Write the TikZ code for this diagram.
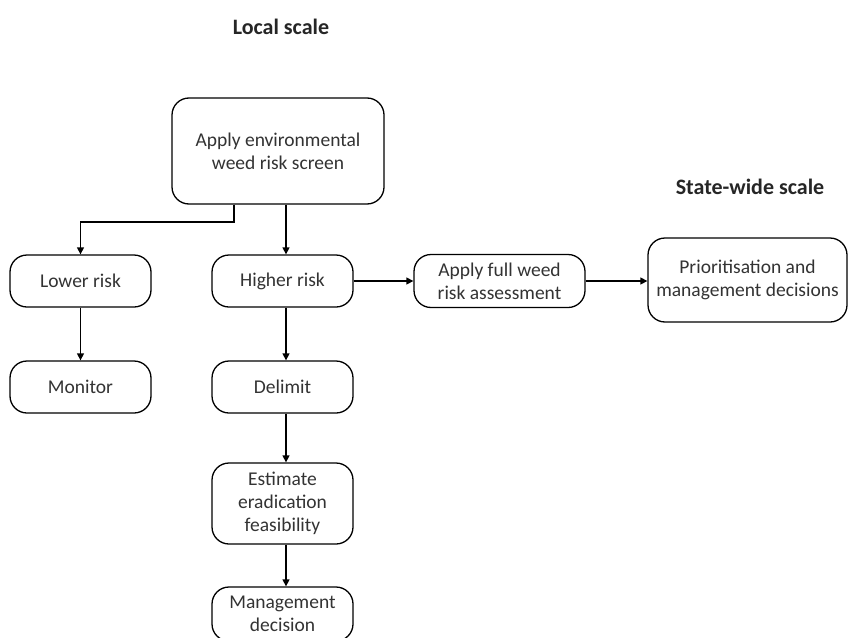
\documentclass[tikz,border=0pt]{standalone}
\usepackage{fontspec}
\setmainfont{Carlito}
\usetikzlibrary{arrows.meta}
\begin{document}
\begin{tikzpicture}[x=1pt,y=-1pt,
  box/.style={draw, line width=1.3pt, rounded corners=17pt, align=center,
    inner sep=0pt, font=\fontsize{19.5}{23}\selectfont, text=black!80},
  flow/.style={line width=1.3pt, -{Triangle[length=7pt,width=7pt]}},
  heading/.style={font=\bfseries\fontsize{22}{26}\selectfont, text=black!85}]
  \clip (0,0) rectangle (848,637);
  \fill[white] (0,0) rectangle (848,637);

  \node[heading] (local) at (281,27) {Local scale};
  \node[heading] (state) at (750,187) {State-wide scale};

  \node[box, minimum width=212pt, minimum height=106pt] (screen) at (278,151)
    {Apply environmental\\weed risk screen};
  \node[box, minimum width=141pt, minimum height=52pt] (lower) at (80.5,281) {Lower risk};
  \node[box, minimum width=141pt, minimum height=52pt] (higher) at (282.5,281) {Higher risk};
  \node[box, minimum width=171pt, minimum height=53pt] (full) at (499.5,281)
    {Apply full weed\\risk assessment};
  \node[box, minimum width=199pt, minimum height=84pt] (prior) at (747.5,280)
    {Prioritisation and\\management decisions};
  \node[box, minimum width=141pt, minimum height=52pt] (monitor) at (80.5,387) {Monitor};
  \node[box, minimum width=141pt, minimum height=52pt] (delimit) at (282.5,387) {Delimit};
  \node[box, minimum width=141pt, minimum height=81pt] (estimate) at (282.5,503.5)
    {Estimate\\eradication\\feasibility};
  \node[box, minimum width=141pt, minimum height=54pt] (manage) at (282.5,614)
    {Management\\decision};

  \coordinate (split) at (234,222);
  \draw[flow] (screen.south -| split) |- (split) -| (lower.north);
  \draw[flow] (screen.south -| 286,0) -- (higher.north -| 286,0);
  \draw[flow] (higher.east) -- (full.west);
  \draw[flow] (full.east) -- (full.east -| prior.west);
  \draw[flow] (lower.south) -- (monitor.north);
  \draw[flow] (higher.south -| 286,0) -- (delimit.north -| 286,0);
  \draw[flow] (delimit.south -| 286,0) -- (estimate.north -| 286,0);
  \draw[flow] (estimate.south -| 286,0) -- (manage.north -| 286,0);
\end{tikzpicture}
\end{document}
